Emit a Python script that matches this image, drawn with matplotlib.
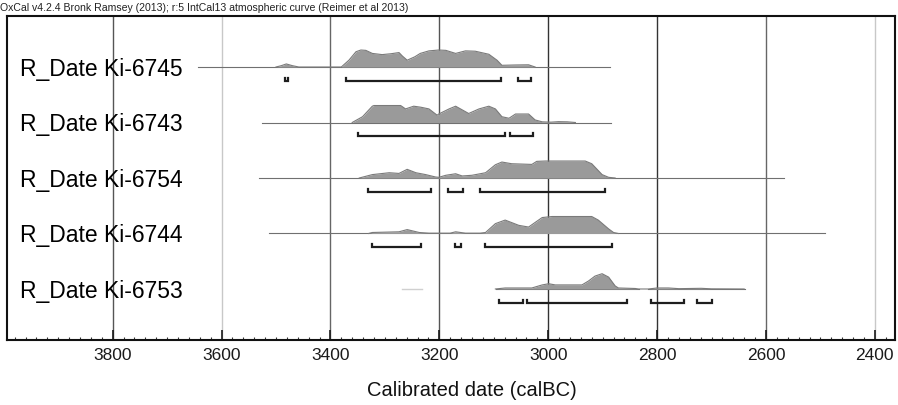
#!/usr/bin/env python3

import matplotlib.pyplot as plt
from matplotlib.ticker import FixedLocator, MultipleLocator
from matplotlib.transforms import blended_transform_factory

plt.rcParams["font.family"] = ["Liberation Sans", "DejaVu Sans"]

header = "OxCal v4.2.4 Bronk Ramsey (2013); r:5 IntCal13 atmospheric curve (Reimer et al 2013)"
xlabel = "Calibrated date (calBC)"
labels = ["R_Date Ki-6745", "R_Date Ki-6743", "R_Date Ki-6754", "R_Date Ki-6744", "R_Date Ki-6753"]
major_ticks = [3800, 3600, 3400, 3200, 3000, 2800, 2600, 2400]

# probability outlines: calBC year, relative height
ki6745_years = [3500, 3490, 3481, 3470, 3458, 3380, 3366, 3353, 3344, 3335, 3323, 3305, 3289,
                3274, 3268, 3259, 3245, 3235, 3219, 3201, 3188, 3170, 3152, 3134, 3109, 3094,
                3085, 3060, 3036, 3024]
ki6745_prob = [0, 0.08, 0.18, 0.08, 0, 0, 0.4, 0.9, 1.0, 0.98, 0.8, 0.73, 0.78,
               0.85, 0.65, 0.4, 0.6, 0.8, 0.95, 1.0, 0.98, 0.8, 0.95, 0.93, 0.75, 0.4,
               0.1, 0.12, 0.13, 0]

ki6743_years = [3360, 3341, 3323, 3320, 3271, 3262, 3247, 3234, 3219, 3204, 3201, 3182, 3170,
                3146, 3127, 3109, 3097, 3085, 3072, 3060, 3036, 3024, 3011, 2995, 2981, 2965,
                2950]
ki6743_prob = [0, 0.34, 0.96, 1.0, 1.0, 0.8, 0.96, 0.9, 0.8, 0.43, 0.5, 0.8, 0.96,
               0.53, 0.8, 0.96, 0.8, 0.34, 0.25, 0.5, 0.5, 0.15, 0.04, 0.02, 0.05, 0.04,
               0]

ki6754_years = [3347, 3323, 3292, 3274, 3259, 3243, 3225, 3207, 3201, 3188, 3170, 3158, 3140,
                3115, 3097, 3085, 3067, 3030, 3021, 3005, 2932, 2920, 2901, 2889, 2877]
ki6754_prob = [0, 0.2, 0.31, 0.27, 0.51, 0.31, 0.2, 0.06, 0.04, 0.16, 0.25, 0.12, 0.16,
               0.31, 0.78, 0.94, 0.84, 0.8, 0.98, 1.0, 1.0, 0.84, 0.2, 0.04, 0]

ki6744_years = [3330, 3323, 3274, 3259, 3237, 3219, 3180, 3170, 3152, 3125, 3115, 3097, 3079,
                3054, 3036, 3024, 3011, 2993, 2920, 2908, 2889, 2880, 2871]
ki6744_prob = [0, 0.06, 0.1, 0.23, 0.06, 0.02, 0.02, 0.1, 0.02, 0.02, 0.06, 0.58, 0.79,
               0.48, 0.38, 0.65, 0.94, 1.0, 1.0, 0.79, 0.27, 0.06, 0]

ki6753_years = [3097, 3079, 3030, 3011, 2999, 2987, 2938, 2926, 2914, 2901, 2889, 2877, 2871,
                2840, 2834, 2816, 2800, 2779, 2760, 2719, 2700, 2640]
ki6753_prob = [0, 0.06, 0.06, 0.24, 0.31, 0.24, 0.24, 0.47, 0.76, 0.9, 0.7, 0.18, 0.06,
               0.03, 0, 0, 0.06, 0.06, 0.02, 0.04, 0.01, 0]

years = [ki6745_years, ki6743_years, ki6754_years, ki6744_years, ki6753_years]
probs = [ki6745_prob, ki6743_prob, ki6754_prob, ki6744_prob, ki6753_prob]

# extent of the thin line under each distribution
spans = [
    [(3644, 2886)],
    [(3525, 2884)],
    [(3531, 2567)],
    [(3512, 2492)],
    [(3096, 2834), (2816, 2638)],
]
faint_span = (3268, 3232)  # stray light segment in the last row

# 95.4% ranges
ranges = [
    [(3484, 3477), (3371, 3087), (3056, 3032)],
    [(3349, 3080), (3071, 3027)],
    [(3331, 3215), (3184, 3157), (3126, 2895)],
    [(3324, 3234), (3171, 3160), (3116, 2882)],
    [(3091, 3047), (3038, 2856), (2812, 2750), (2726, 2700)],
]


def plot_and_save_graph():
    fig = plt.figure(figsize=(8.98, 4.06), dpi=100)
    ax = fig.add_axes([7 / 898, 65 / 406, 888 / 898, 324 / 406])
    ax.set_xlim(3994, 2363)
    ax.set_ylim(4.919, -0.919)

    # vertical grid lines
    grid_colors = ["#555555", "#c8c8c8", "#666666", "#555555", "#333333", "#333333", "#666666", "#c8c8c8"]
    for x, c in zip(major_ticks, grid_colors):
        ax.axvline(x, color=c, lw=1.0, zorder=1)

    h = 0.306
    for k in range(len(labels)):
        for a, b in spans[k]:
            ax.plot([a, b], [k, k], color="#707070", lw=0.8, zorder=2)
        yy = [k - p * h for p in probs[k]]
        ax.fill_between(years[k], k, yy, color="#9a9a9a", lw=0, zorder=3)
        ax.plot(years[k], yy, color="#7a7a7a", lw=0.8, zorder=3)

        yb = k + 0.25
        for a, b in ranges[k]:
            ax.plot([a, a, b, b], [yb - 0.055, yb, yb, yb - 0.055], color="#1e1e1e", lw=1.6,
                    solid_joinstyle="miter", zorder=4)

        ax.text(13 / 888, k + 0.02, labels[k], fontsize=16.5, va="center", ha="left",
                transform=blended_transform_factory(ax.transAxes, ax.transData), zorder=5)

    ax.plot(faint_span, [4, 4], color="#d0d0d0", lw=1.0, zorder=2)

    ax.xaxis.set_major_locator(FixedLocator(major_ticks))
    ax.xaxis.set_minor_locator(MultipleLocator(20))
    ax.set_yticks([])
    ax.tick_params(axis="x", which="major", direction="in", length=7, width=1.2, labelsize=12.5, pad=5,
                   colors="#1a1a1a")
    ax.tick_params(axis="x", which="minor", direction="in", length=2.5, width=0.8, color="#333333")
    for s in ax.spines.values():
        s.set_linewidth(1.5)
        s.set_color("#111111")

    fig.text(0.0, 1 - 8 / 406, header, fontsize=7.6, va="center", ha="left", color="#222222")
    fig.text(472 / 898, 1 - 391 / 406, xlabel, fontsize=14.5, va="center", ha="center", color="#111111")

    fig.savefig("out.png", dpi=100)


def main():
    plot_and_save_graph()


if __name__ == "__main__":
    main()
